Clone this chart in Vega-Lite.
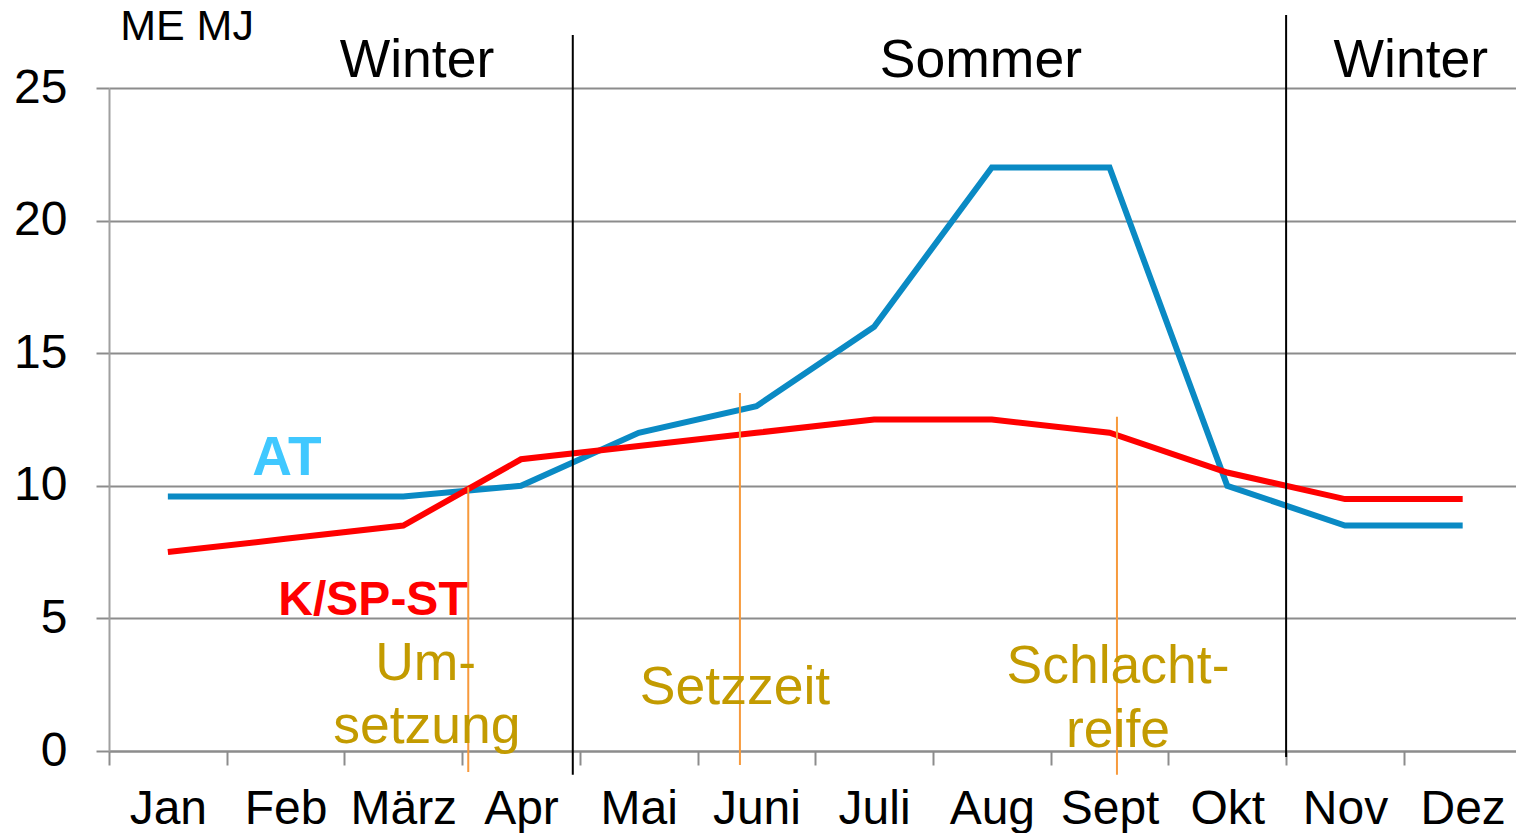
{
  "$schema": "https://vega.github.io/schema/vega-lite/v6.json",
  "autosize": {"type": "none"},
  "padding": {"left": 109, "top": 88, "right": 0, "bottom": 82},
  "width": 1407,
  "height": 663,
  "background": "white",
  "config": {
    "view": {"stroke": null},
    "font": "Liberation Sans",
    "text": {"font": "Liberation Sans"}
  },
  "datasets": {
    "series": [
      {"month": "Jan", "p": 0.5, "value": 9.6, "series": "AT"},
      {"month": "Feb", "p": 1.5, "value": 9.6, "series": "AT"},
      {"month": "März", "p": 2.5, "value": 9.6, "series": "AT"},
      {"month": "Apr", "p": 3.5, "value": 10.0, "series": "AT"},
      {"month": "Mai", "p": 4.5, "value": 12.0, "series": "AT"},
      {"month": "Juni", "p": 5.5, "value": 13.0, "series": "AT"},
      {"month": "Juli", "p": 6.5, "value": 16.0, "series": "AT"},
      {"month": "Aug", "p": 7.5, "value": 22.0, "series": "AT"},
      {"month": "Sept", "p": 8.5, "value": 22.0, "series": "AT"},
      {"month": "Okt", "p": 9.5, "value": 10.0, "series": "AT"},
      {"month": "Nov", "p": 10.5, "value": 8.5, "series": "AT"},
      {"month": "Dez", "p": 11.5, "value": 8.5, "series": "AT"},
      {"month": "Jan", "p": 0.5, "value": 7.5, "series": "K/SP-ST"},
      {"month": "Feb", "p": 1.5, "value": 8.0, "series": "K/SP-ST"},
      {"month": "März", "p": 2.5, "value": 8.5, "series": "K/SP-ST"},
      {"month": "Apr", "p": 3.5, "value": 11.0, "series": "K/SP-ST"},
      {"month": "Mai", "p": 4.5, "value": 11.5, "series": "K/SP-ST"},
      {"month": "Juni", "p": 5.5, "value": 12.0, "series": "K/SP-ST"},
      {"month": "Juli", "p": 6.5, "value": 12.5, "series": "K/SP-ST"},
      {"month": "Aug", "p": 7.5, "value": 12.5, "series": "K/SP-ST"},
      {"month": "Sept", "p": 8.5, "value": 12.0, "series": "K/SP-ST"},
      {"month": "Okt", "p": 9.5, "value": 10.5, "series": "K/SP-ST"},
      {"month": "Nov", "p": 10.5, "value": 9.5, "series": "K/SP-ST"},
      {"month": "Dez", "p": 11.5, "value": 9.5, "series": "K/SP-ST"}
    ],
    "seasonRules": [
      {"p": 3.94, "top": 27.0, "bottom": -0.9},
      {"p": 10.0, "top": 27.75, "bottom": -0.23}
    ],
    "phaseRules": [
      {"p": 3.052, "top": 9.95, "bottom": -0.79},
      {"p": 5.36, "top": 13.5, "bottom": -0.53},
      {"p": 8.563, "top": 12.6, "bottom": -0.9}
    ],
    "seasons": [
      {"label": "Winter", "p": 2.616, "v": 25.41},
      {"label": "Sommer", "p": 7.407, "v": 25.41},
      {"label": "Winter", "p": 11.06, "v": 25.41}
    ],
    "unit": [
      {"label": "ME MJ", "p": 0.663, "v": 26.81}
    ],
    "seriesLabels": [
      {"label": "AT", "series": "AT", "p": 1.512, "v": 10.41},
      {"label": "K/SP-ST", "series": "K/SP-ST", "p": 2.243, "v": 5.13}
    ],
    "phases": [
      {"label": "Um-", "p": 2.69, "v": 2.68},
      {"label": "setzung", "p": 2.70, "v": 0.3},
      {"label": "Setzzeit", "p": 5.318, "v": 1.77},
      {"label": "Schlacht-", "p": 8.572, "v": 2.56},
      {"label": "reife", "p": 8.572, "v": 0.15}
    ]
  },
  "layer": [
    {
      "data": {"name": "series"},
      "mark": {"type": "line", "strokeWidth": 6, "strokeJoin": "miter"},
      "encoding": {
        "x": {
          "field": "p", "type": "quantitative",
          "scale": {"domain": [0, 11.953], "nice": false, "zero": false},
          "axis": {
            "title": null,
            "values": [0, 1, 2, 3, 4, 5, 6, 7, 8, 9, 10, 11],
            "grid": false,
            "domain": true, "domainColor": "#8c8c8c", "domainWidth": 2,
            "ticks": true, "tickColor": "#8c8c8c", "tickWidth": 2, "tickSize": 14,
            "labelExpr": "['Jan','Feb','März','Apr','Mai','Juni','Juli','Aug','Sept','Okt','Nov','Dez'][datum.value]",
            "labelOffset": 58.86,
            "labelFlush": false,
            "labelOverlap": false,
            "labelBaseline": "alphabetic",
            "labelPadding": 58,
            "labelFont": "Liberation Sans",
            "labelFontSize": 48,
            "labelColor": "black"
          }
        },
        "y": {
          "field": "value", "type": "quantitative",
          "scale": {"domain": [0, 25], "nice": false},
          "axis": {
            "title": null,
            "values": [0, 5, 10, 15, 20, 25],
            "grid": true, "gridColor": "#8c8c8c", "gridWidth": 2,
            "domain": true, "domainColor": "#a0a0a0", "domainWidth": 2,
            "ticks": true, "tickColor": "#8c8c8c", "tickWidth": 2, "tickSize": 13,
            "labelFlush": false,
            "labelPadding": 29,
            "labelFont": "Liberation Sans",
            "labelFontSize": 48,
            "labelColor": "black"
          }
        },
        "color": {
          "field": "series", "type": "nominal",
          "scale": {"domain": ["AT", "K/SP-ST"], "range": ["#0a8ac4", "#ff0000"]},
          "legend": null
        }
      }
    },
    {
      "data": {"name": "seasonRules"},
      "mark": {"type": "rule", "color": "black", "strokeWidth": 2},
      "encoding": {
        "x": {"field": "p", "type": "quantitative"},
        "y": {"field": "top", "type": "quantitative"},
        "y2": {"field": "bottom"}
      }
    },
    {
      "data": {"name": "phaseRules"},
      "mark": {"type": "rule", "color": "#f79a3c", "strokeWidth": 2},
      "encoding": {
        "x": {"field": "p", "type": "quantitative"},
        "y": {"field": "top", "type": "quantitative"},
        "y2": {"field": "bottom"}
      }
    },
    {
      "data": {"name": "seasons"},
      "mark": {"type": "text", "fontSize": 53.5, "color": "black", "align": "center", "baseline": "alphabetic"},
      "encoding": {
        "x": {"field": "p", "type": "quantitative"},
        "y": {"field": "v", "type": "quantitative"},
        "text": {"field": "label"}
      }
    },
    {
      "data": {"name": "unit"},
      "mark": {"type": "text", "fontSize": 43, "color": "black", "align": "center", "baseline": "alphabetic"},
      "encoding": {
        "x": {"field": "p", "type": "quantitative"},
        "y": {"field": "v", "type": "quantitative"},
        "text": {"field": "label"}
      }
    },
    {
      "data": {"name": "seriesLabels"},
      "mark": {"type": "text", "fontWeight": "bold", "align": "center", "baseline": "alphabetic"},
      "encoding": {
        "x": {"field": "p", "type": "quantitative"},
        "y": {"field": "v", "type": "quantitative"},
        "text": {"field": "label"},
        "size": {"condition": {"test": "datum.series === 'AT'", "value": 55}, "value": 48},
        "color": {"condition": {"test": "datum.series === 'AT'", "value": "#40c8ff"}, "value": "#ff0000"}
      }
    },
    {
      "data": {"name": "phases"},
      "mark": {"type": "text", "fontSize": 53.5, "color": "#c39b00", "align": "center", "baseline": "alphabetic"},
      "encoding": {
        "x": {"field": "p", "type": "quantitative"},
        "y": {"field": "v", "type": "quantitative"},
        "text": {"field": "label"}
      }
    }
  ]
}
